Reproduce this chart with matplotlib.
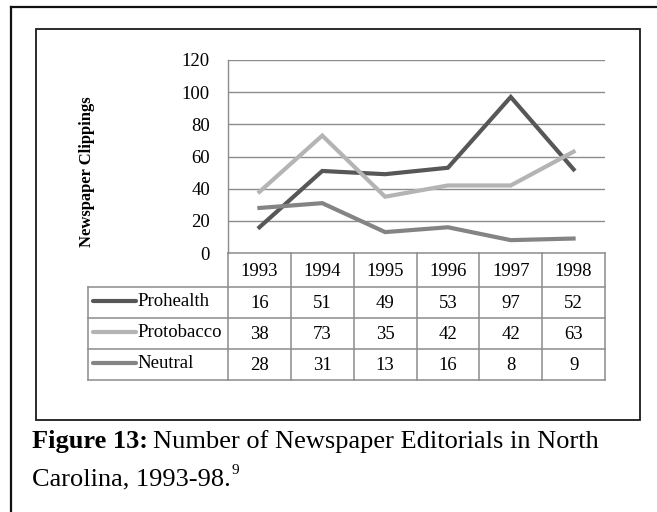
import matplotlib
matplotlib.use("Agg")
import matplotlib.pyplot as plt
from matplotlib.lines import Line2D

years = ["1993", "1994", "1995", "1996", "1997", "1998"]
series_names = ["Prohealth", "Protobacco", "Neutral"]
prohealth = [16, 51, 49, 53, 97, 52]
protobacco = [38, 73, 35, 42, 42, 63]
neutral = [28, 31, 13, 16, 8, 9]
y_ticks = [0, 20, 40, 60, 80, 100, 120]
y_label = "Newspaper Clippings"
caption_bold = "Figure 13:"
caption_rest = "Number of Newspaper Editorials in North"
caption_line2 = "Carolina, 1993-98."
caption_note = "9"

series_values = [prohealth, protobacco, neutral]
series_colors = ["#575757", "#b4b4b4", "#848484"]

W, H = 657, 512
FONT = "Liberation Serif"
plt.rcParams["font.family"] = [FONT, "DejaVu Serif"]

fig = plt.figure(figsize=(W / 100, H / 100), dpi=100)

# pixel layout helpers
def fx(x):
    return x / W

def fy(y):
    return 1 - y / H

plot_l, plot_r, plot_t, plot_b = 228, 605, 60, 253

# overlay axes in pixel coordinates for frames, table and caption
ov = fig.add_axes([0, 0, 1, 1])
ov.set_xlim(0, W)
ov.set_ylim(H, 0)
ov.axis("off")

# chart
ax = fig.add_axes([fx(plot_l), fy(plot_b), fx(plot_r - plot_l), (plot_b - plot_t) / H])
n = len(years)
xs = [i + 0.5 for i in range(n)]
ax.set_xlim(0, n)
ax.set_ylim(0, 120)
for v in y_ticks[1:]:
    ax.axhline(v, color="#8c8c8c", lw=1.0, zorder=1)
for vals, c in zip(series_values, series_colors):
    ax.plot(xs, vals, color=c, lw=3.0, solid_joinstyle="miter", zorder=3)
for s in ["top", "right", "bottom"]:
    ax.spines[s].set_visible(False)
ax.spines["left"].set_color("#8c8c8c")
ax.spines["left"].set_linewidth(1.0)
ax.set_xticks([])
ax.set_yticks(y_ticks)
ax.set_yticklabels([str(v) for v in y_ticks], fontsize=13.5)
ax.tick_params(axis="y", length=0, pad=13)
ax.patch.set_alpha(0)

# axis title placed in pixel coordinates
ov.text(87, 172, y_label, fontsize=12, fontweight="bold", rotation=90,
        ha="center", va="center")

# outer and inner frames
ov.plot([11, 11], [H + 5, 7], color="#111111", lw=1.6, solid_capstyle="projecting")
ov.plot([11, W + 5], [7, 7], color="#111111", lw=1.6, solid_capstyle="projecting")
ov.add_patch(plt.Rectangle((36, 29), 640 - 36, 420 - 29, fill=False,
                           edgecolor="#1a1a1a", lw=1.3))

# data table below the chart
col_w = (plot_r - plot_l) / n
col_edges = [plot_l + i * col_w for i in range(n + 1)]
label_l = 88
row_edges = [253, 287, 318, 349, 380]
grid_c = "#8c8c8c"
tlw = 1.1
tfs = 13.5

# header row
ov.plot([plot_l, plot_r], [row_edges[0], row_edges[0]], color=grid_c, lw=tlw)
for x in col_edges:
    ov.plot([x, x], [row_edges[0], row_edges[-1]], color=grid_c, lw=tlw)
for y in row_edges[1:]:
    ov.plot([label_l, plot_r], [y, y], color=grid_c, lw=tlw)
ov.plot([label_l, label_l], [row_edges[1], row_edges[-1]], color=grid_c, lw=tlw)

for i, yr in enumerate(years):
    cx = (col_edges[i] + col_edges[i + 1]) / 2
    ov.text(cx, (row_edges[0] + row_edges[1]) / 2 + 1, yr, ha="center", va="center", fontsize=tfs)

for r, (name, vals, c) in enumerate(zip(series_names, series_values, series_colors)):
    cy = (row_edges[r + 1] + row_edges[r + 2]) / 2
    ov.add_line(Line2D([93, 136], [cy - 2, cy - 2], color=c, lw=3.0, solid_capstyle="round"))
    ov.text(137, cy - 1, name, ha="left", va="center", fontsize=tfs)
    for i, v in enumerate(vals):
        cx = (col_edges[i] + col_edges[i + 1]) / 2
        ov.text(cx, cy + 1, str(v), ha="center", va="center", fontsize=tfs)

# caption
cap_fs = 19
t1 = ov.text(32, 448, caption_bold, fontsize=cap_fs, fontweight="bold", ha="left", va="baseline")
fig.canvas.draw()
r = fig.canvas.get_renderer()
bb = t1.get_window_extent(r)
ov.text(bb.x1 + 5, 448, caption_rest, fontsize=cap_fs, ha="left", va="baseline")
t3 = ov.text(32, 485, caption_line2, fontsize=cap_fs, ha="left", va="baseline")
bb3 = t3.get_window_extent(r)
ov.text(bb3.x1 + 1, 474, caption_note, fontsize=11, ha="left", va="baseline")

fig.savefig("out.png", dpi=100)
